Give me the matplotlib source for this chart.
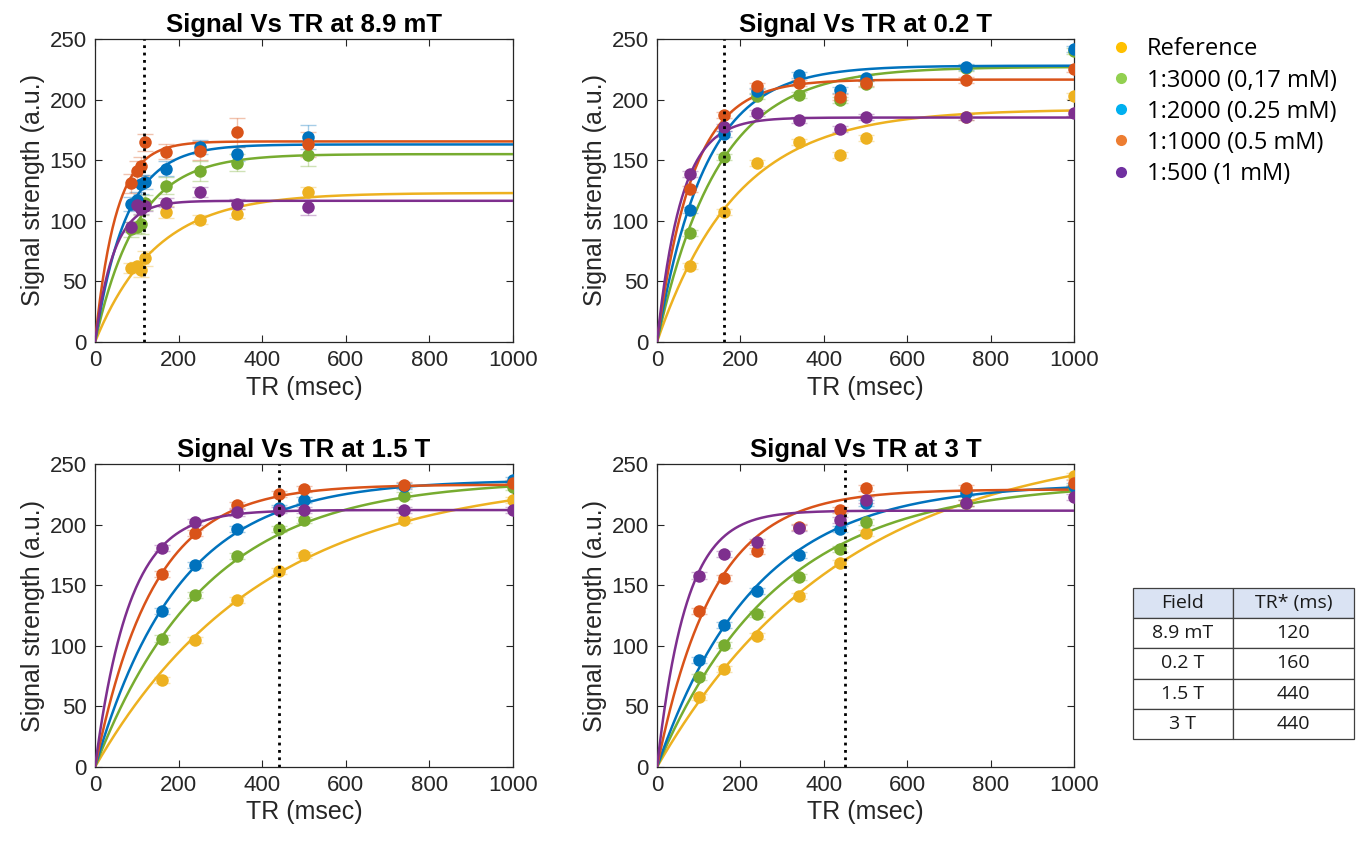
import numpy as np
import matplotlib
matplotlib.use("Agg")
import matplotlib.pyplot as plt
from matplotlib.lines import Line2D

plt.rcParams['font.family'] = ['Liberation Sans', 'DejaVu Sans']

# ---- data ----
titles = ["Signal Vs TR at 8.9 mT", "Signal Vs TR at 0.2 T",
          "Signal Vs TR at 1.5 T", "Signal Vs TR at 3 T"]
series_names = ["Reference", "1:3000 (0,17 mM)", "1:2000 (0.25 mM)",
                "1:1000 (0.5 mM)", "1:500 (1 mM)"]

# TR values (ms) per field
tr_89mT = [85, 100, 110, 120, 170, 250, 340, 510]
tr_02T = [80, 160, 240, 340, 440, 500, 740, 1000]
tr_15T = [160, 240, 340, 440, 500, 740, 1000]
tr_3T = [100, 160, 240, 340, 440, 500, 740, 1000]

# measured signal (order: Reference, 1:3000, 1:2000, 1:1000, 1:500)
sig_89mT = [
    [61, 63, 59, 69, 107, 101, 106, 124],
    [93, 95, 97, 115, 129, 141, 148, 154],
    [114, 117, 130, 132, 143, 161, 155, 169],
    [131, 141, 145, 165, 157, 158, 173, 163],
    [95, 113, 110, 112, 115, 124, 114, 111],
]
sig_02T = [
    [63, 107, 148, 165, 154, 168, 186, 203],
    [90, 153, 203, 204, 200, 213, 226, 240],
    [109, 172, 207, 220, 208, 218, 227, 242],
    [126, 187, 211, 214, 202, 214, 216, 225],
    [139, 177, 189, 183, 176, 186, 186, 189],
]
sig_15T = [
    [72, 105, 138, 162, 175, 204, 220],
    [106, 142, 174, 196, 204, 224, 231],
    [129, 167, 196, 214, 220, 232, 237],
    [159, 193, 216, 225, 229, 233, 234],
    [181, 202, 210, 212, 212, 212, 212],
]
sig_3T = [
    [58, 81, 108, 141, 168, 193, 218, 240],
    [74, 101, 126, 157, 180, 202, 218, 230],
    [88, 117, 145, 175, 196, 218, 226, 232],
    [129, 156, 178, 198, 212, 230, 230, 234],
    [158, 176, 186, 197, 204, 220, 218, 223],
]

# error bars (std)
err_89mT = [
    [4, 3, 5, 6, 5, 4, 4, 4],
    [6, 5, 8, 6, 7, 8, 7, 9],
    [6, 7, 8, 6, 6, 6, 6, 10],
    [8, 8, 8, 7, 6, 8, 12, 10],
    [4, 4, 4, 4, 4, 4, 4, 6],
]
err_small = 2.5

# fitted saturation-recovery parameters: S = M0 * (1 - exp(-TR/T1))
m0_fit = [
    [123, 155, 163, 165.5, 116.5],
    [192, 227, 228, 216.5, 185.2],
    [240, 237, 237, 233, 212],
    [270, 235, 234, 229, 211.5],
]
t1_fit = [
    [145, 100, 75, 50, 45],
    [190, 145, 115, 85, 58],
    [400, 265, 200, 138, 82],
    [450, 290, 235, 135, 70],
]

tr_star_line = [118, 160, 440, 452]

table_fields = ["8.9 mT", "0.2 T", "1.5 T", "3 T"]
table_tr = ["120", "160", "440", "440"]

# ---- styling ----
line_colors = ["#EDB120", "#77AC30", "#0072BD", "#D95319", "#7E2F8E"]
legend_colors = ["#FFC000", "#92D050", "#00B0F0", "#ED7D31", "#7030A0"]
axcol = "#262626"

fig = plt.figure(figsize=(13.64, 8.43), dpi=100)

W, H = 1364, 843
boxes = [(95, 39, 513, 342), (657, 39, 1074, 342),
         (95, 464, 513, 767), (657, 464, 1074, 767)]

all_tr = [tr_89mT, tr_02T, tr_15T, tr_3T]
all_sig = [sig_89mT, sig_02T, sig_15T, sig_3T]
tr_grid = np.linspace(0, 1000, 500)

for p in range(4):
    l, t, r, b = boxes[p]
    ax = fig.add_axes([l / W, 1 - b / H, (r - l) / W, (b - t) / H])
    x = np.array(all_tr[p])
    for s in range(5):
        y = np.array(all_sig[p][s])
        if p == 0:
            e = np.array(err_89mT[s])
        else:
            e = np.full(len(y), err_small)
        ax.errorbar(x, y, yerr=e, fmt='none', ecolor=line_colors[s],
                    alpha=0.35, capsize=6, elinewidth=1, capthick=1, zorder=2)
        fit = m0_fit[p][s] * (1 - np.exp(-tr_grid / t1_fit[p][s]))
        ax.plot(tr_grid, fit, color=line_colors[s], lw=1.8, zorder=3)
        ax.plot(x, y, 'o', color=line_colors[s], ms=9, mec='none', zorder=4)
    ax.axvline(tr_star_line[p], color='black', ls=':', lw=2, zorder=5)
    ax.set_xlim(0, 1000)
    ax.set_ylim(0, 250)
    ax.set_xticks(np.arange(0, 1001, 200))
    ax.set_yticks(np.arange(0, 251, 50))
    ax.tick_params(direction='in', top=True, right=True, length=5,
                   width=0.8, labelsize=16, colors=axcol, pad=6)
    for sp in ax.spines.values():
        sp.set_color(axcol)
        sp.set_linewidth(0.9)
    ax.set_title(titles[p], fontsize=18.5, fontweight='bold', pad=5)
    ax.set_xlabel("TR (msec)", fontsize=18, color=axcol, labelpad=3)
    ax.set_ylabel("Signal strength (a.u.)", fontsize=18, color=axcol,
                  labelpad=3)

# legend
handles = [Line2D([], [], marker='o', ls='none', color=c, ms=8, mec='none')
           for c in legend_colors]
fig.legend(handles, series_names, loc='upper left',
           bbox_to_anchor=(1100 / W, 1 - 28 / H), frameon=False,
           prop={'family': 'Open Sans', 'size': 17}, labelspacing=0.3,
           handletextpad=0.6, handlelength=1.0, borderaxespad=0)

# table
tax = fig.add_axes([1133 / W, 1 - 739 / H, 221 / W, 151 / H])
tax.axis('off')
cells = [[f, v] for f, v in zip(table_fields, table_tr)]
tbl = tax.table(cellText=cells, colLabels=["Field", "TR* (ms)"],
                cellLoc='center', colLoc='center', bbox=[0, 0, 1, 1],
                colWidths=[0.452, 0.548])
tbl.auto_set_font_size(False)
for (row, col), cell in tbl.get_celld().items():
    cell.set_edgecolor('#404040')
    cell.set_linewidth(0.9)
    cell.get_text().set_fontsize(14)
    cell.get_text().set_fontfamily('Open Sans')
    cell.get_text().set_color('#1a1a1a')
    if row == 0:
        cell.set_facecolor('#DAE3F3')

fig.savefig("out.png", dpi=100)
